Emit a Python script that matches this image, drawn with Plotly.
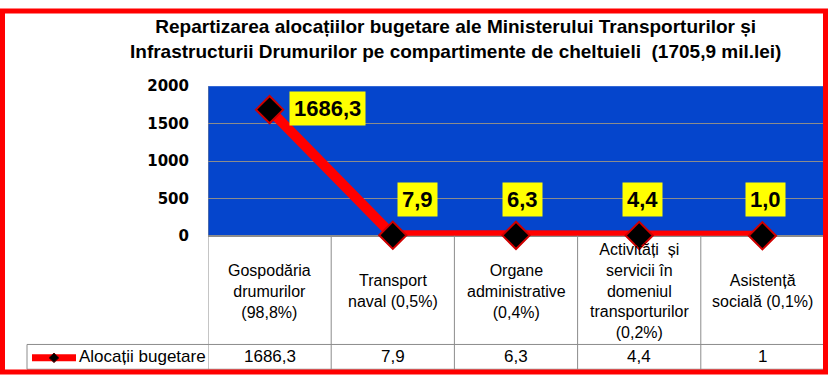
import plotly.graph_objects as go

# ---- data ----
categories = [
    "Gospodăria<br>drumurilor<br>(98,8%)",
    "Transport<br>naval (0,5%)",
    "Organe<br>administrative<br>(0,4%)",
    "Activități  și<br>servicii în<br>domeniul<br>transporturilor<br>(0,2%)",
    "Asistență<br>socială (0,1%)",
]
values = [1686.3, 7.9, 6.3, 4.4, 1.0]
series_name = "Alocații bugetare"
title_text = ("Repartizarea alocațiilor bugetare ale Ministerului Transporturilor și<br>"
              "Infrastructurii Drumurilor pe compartimente de cheltuieli  (1705,9 mil.lei)")
y_ticks = [0, 500, 1000, 1500, 2000]

# label offsets (pixels) for value callouts
label_dx = [58, 25, 6, 3, 3]
label_dy = [1, 36, 36, 36, 36]

W, H = 828, 383
def py(p):  # pixel from top -> paper y
    return 1 - p / H
def px(p):
    return p / W

xs = list(range(len(values)))

PLOT_L, PLOT_R, PLOT_T, PLOT_B = 208, 824, 81, 238
TABLE_MID, TABLE_BOT, LEG_L = 352, 378, 27

fig = go.Figure()
# soft shadow under markers
fig.add_trace(go.Scatter(
    x=xs, y=values, mode="markers",
    marker=dict(symbol="diamond", size=22, color="rgba(0,0,0,0.25)", line=dict(width=0)),
    cliponaxis=False, showlegend=False, hoverinfo="skip",
))
fig.add_trace(go.Scatter(
    x=xs, y=values, mode="lines+markers",
    line=dict(color="#FF0000", width=10),
    marker=dict(symbol="diamond", size=21, color="#000000",
                line=dict(color="#D00000", width=2)),
    cliponaxis=False, showlegend=False,
))

def fmt_label(v):
    return f"{v:.1f}".replace(".", ",")
def fmt_table(v):
    return ("%g" % v).replace(".", ",")

annotations = []
# value callouts
for i, v in enumerate(values):
    annotations.append(dict(
        x=i, y=v, xref="x", yref="y", text=fmt_label(v), showarrow=False,
        xshift=label_dx[i], yshift=label_dy[i],
        bgcolor="#FFFF00", borderpad=4,
        font=dict(family="Liberation Sans, Arial", size=22, color="black", weight="bold"),
    ))
# category cells
for i, c in enumerate(categories):
    annotations.append(dict(
        x=i, y=py((PLOT_B + TABLE_MID) / 2 + 1), xref="x", yref="paper", text=c, showarrow=False,
        yanchor="middle", align="center",
        font=dict(family="Liberation Sans, Arial", size=16, color="black"),
    ))
# value cells
for i, v in enumerate(values):
    annotations.append(dict(
        x=i, y=py((TABLE_MID + TABLE_BOT) / 2), xref="x", yref="paper", text=fmt_table(v), showarrow=False,
        yanchor="middle",
        font=dict(family="Liberation Sans, Arial", size=17, color="black"),
    ))
# legend text
annotations.append(dict(
    x=px(77), y=py((TABLE_MID + TABLE_BOT) / 2), xref="paper", yref="paper", text=series_name,
    showarrow=False, xanchor="left", yanchor="middle",
    font=dict(family="Liberation Sans, Arial", size=17, color="black"),
))
# title
annotations.append(dict(
    x=px(455), y=py(31), xref="paper", yref="paper", text=title_text, showarrow=False,
    xanchor="center", yanchor="middle", align="center",
    font=dict(family="Liberation Sans, Arial", size=19, color="black", weight="bold"),
))

grid = "#8C8C8C"
shapes = []
# vertical table lines at column boundaries
for b in range(len(values) + 1):
    y_top = PLOT_T if b == 0 else PLOT_B
    shapes.append(dict(type="line", xref="x", yref="paper", x0=b - 0.5, x1=b - 0.5,
                       y0=py(y_top), y1=py(TABLE_BOT), line=dict(color=grid, width=1)))
# horizontal table lines
shapes.append(dict(type="line", xref="paper", yref="paper", x0=px(LEG_L), x1=px(PLOT_R),
                   y0=py(TABLE_MID), y1=py(TABLE_MID), line=dict(color=grid, width=1)))
shapes.append(dict(type="line", xref="paper", yref="paper", x0=px(LEG_L), x1=px(PLOT_R),
                   y0=py(TABLE_BOT), y1=py(TABLE_BOT), line=dict(color=grid, width=1)))
shapes.append(dict(type="line", xref="paper", yref="paper", x0=px(LEG_L), x1=px(LEG_L),
                   y0=py(TABLE_MID), y1=py(TABLE_BOT), line=dict(color=grid, width=1)))
# legend symbol
ly = (TABLE_MID + TABLE_BOT) / 2 + 1
shapes.append(dict(type="line", xref="paper", yref="paper", x0=px(32), x1=px(76),
                   y0=py(ly), y1=py(ly), line=dict(color="#FF0000", width=7)))
d = 5
shapes.append(dict(type="path", xref="paper", yref="paper",
                   path=f"M {px(54-d)},{py(ly)} L {px(54)},{py(ly-d)} L {px(54+d)},{py(ly)} L {px(54)},{py(ly+d)} Z",
                   fillcolor="#000000", line=dict(color="#600000", width=1)))
# red frame
shapes.append(dict(type="rect", xref="paper", yref="paper", x0=px(2.5), x1=px(825.5),
                   y0=py(381), y1=py(2), line=dict(color="#FF0000", width=5)))

fig.update_layout(
    width=W, height=H, margin=dict(l=0, r=0, t=0, b=0),
    paper_bgcolor="white", plot_bgcolor="#0545CC",
    xaxis=dict(domain=[px(PLOT_L), px(PLOT_R)], range=[-0.5, len(values) - 0.5],
               showticklabels=False, showgrid=False, zeroline=False, ticks=""),
    yaxis=dict(domain=[py(PLOT_B), py(PLOT_T)], range=[0, 2000], tickvals=y_ticks,
               showgrid=True, gridcolor=grid, gridwidth=1, zeroline=True, zerolinecolor=grid,
               ticklabelstandoff=18,
               tickfont=dict(family="DejaVu Sans", size=15, color="black", weight="bold")),
    annotations=annotations, shapes=shapes, showlegend=False,
)

fig.write_html("out.html")
